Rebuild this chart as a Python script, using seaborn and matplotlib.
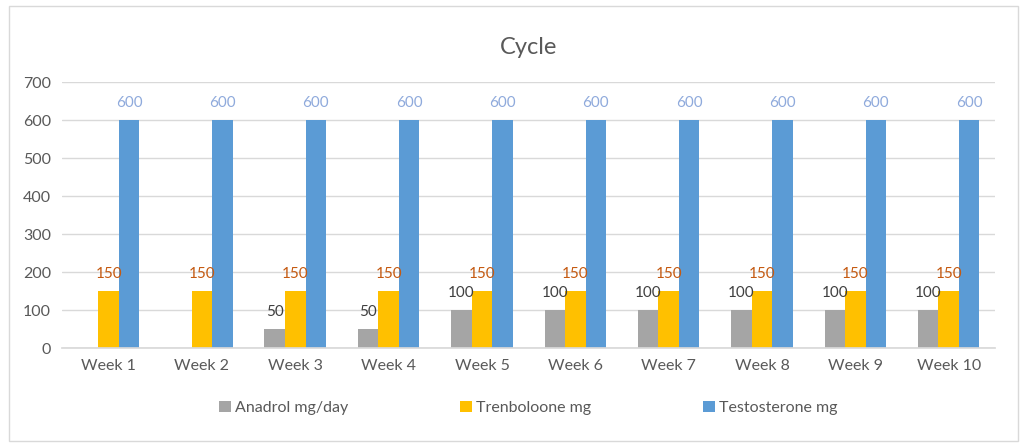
import matplotlib
matplotlib.use("Agg")
import matplotlib.pyplot as plt
import seaborn as sns
import pandas as pd
from matplotlib.patches import Rectangle

weeks = ["Week 1", "Week 2", "Week 3", "Week 4", "Week 5", "Week 6", "Week 7", "Week 8", "Week 9", "Week 10"]
anadrol = [0, 0, 50, 50, 100, 100, 100, 100, 100, 100]
trenbolone = [150, 150, 150, 150, 150, 150, 150, 150, 150, 150]
testosterone = [600, 600, 600, 600, 600, 600, 600, 600, 600, 600]
series_names = ["Anadrol mg/day", "Trenboloone mg", "Testosterone mg"]
colors = ["#A5A5A5", "#FFC000", "#5B9BD5"]
label_colors = ["#404040", "#C55A11", "#8FAADC"]

rows = []
for name, vals in zip(series_names, [anadrol, trenbolone, testosterone]):
    for w, v in zip(weeks, vals):
        rows.append({"week": w, "value": v, "series": name})
df = pd.DataFrame(rows)

sns.set_theme(style="white")
plt.rcParams["font.family"] = ["Lato", "DejaVu Sans"]

fig = plt.figure(figsize=(10.24, 4.46), dpi=100)
ax = fig.add_axes([0.0605, 0.2197, 0.9115, 0.5963])
fig.patches.append(Rectangle((0.009, 0.012), 0.985, 0.975, transform=fig.transFigure,
                             fill=False, edgecolor="#D9D9D9", linewidth=1))

sns.barplot(data=df, x="week", y="value", hue="series", hue_order=series_names,
            palette=colors, width=0.66, gap=0, saturation=1, ax=ax, legend=True,
            errorbar=None, edgecolor="none")

for cont, lc in zip(ax.containers, label_colors):
    labels = ["" if b.get_height() == 0 else f"{int(b.get_height())}" for b in cont]
    ax.bar_label(cont, labels=labels, color=lc, fontsize=11, padding=7)

ax.set_ylim(0, 700)
ax.set_yticks(range(0, 701, 100))
ax.set_xlim(-0.5, 9.5)
ax.yaxis.grid(True, color="#D9D9D9", linewidth=1)
ax.set_axisbelow(True)
for s in ["top", "right", "left"]:
    ax.spines[s].set_visible(False)
ax.spines["bottom"].set_color("#D9D9D9")
ax.tick_params(axis="both", colors="#595959", labelsize=11.5, length=0, pad=8)
ax.set_xlabel("")
ax.set_ylabel("")
ax.set_title("Cycle", fontsize=17, color="#595959", pad=20)

leg = ax.legend(loc="upper center", bbox_to_anchor=(0.5, -0.145), ncol=3, frameon=False,
                fontsize=11.5, handlelength=0.7, handleheight=0.7, handletextpad=0.3,
                columnspacing=7)
for t in leg.get_texts():
    t.set_color("#595959")

fig.savefig("out.png", dpi=100)
